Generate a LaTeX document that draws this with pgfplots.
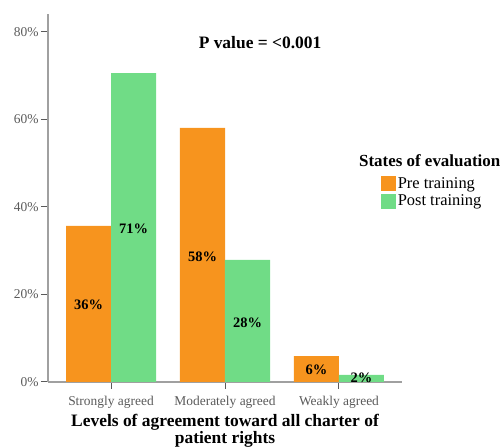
\documentclass[border=0pt]{standalone}
\usepackage{pgfplots}
\pgfplotsset{compat=1.18}
\usepackage{fontspec}
\setmainfont{Liberation Serif}
\definecolor{preC}{RGB}{247,148,30}
\definecolor{postC}{RGB}{112,220,134}
\definecolor{axC}{RGB}{160,160,160}
\definecolor{tickC}{RGB}{90,90,90}
\begin{document}
\begin{tikzpicture}[x=1bp,y=1bp]
\useasboundingbox (0,0) rectangle (504,448);
\begin{axis}[
  at={(48bp,66bp)}, anchor=south west,
  scale only axis, width=354bp, height=368bp,
  xmin=-0.553, xmax=2.553, ymin=0, ymax=84.1,
  axis lines*=left,
  axis line style={axC, line width=1.3pt},
  xtick={0,1,2},
  xticklabels={Strongly agreed,Moderately agreed,Weakly agreed},
  ytick={0,20,40,60,80},
  yticklabel={\pgfmathprintnumber{\tick}\%},
  /pgf/number format/assume math mode=true,
  tick label style={font=\fontsize{13.5}{15}\selectfont, text=tickC},
  yticklabel style={xshift=1bp},
  tick style={tickC, line width=1pt},
  major tick length=7bp,
  tick align=outside,
  xtick style={tickC, line width=1pt},
  xticklabel style={yshift=-4bp},
  xlabel={Levels of agreement toward all charter of\\patient rights},
  xlabel style={font=\fontsize{17.5}{15.5}\selectfont\bfseries, align=center, yshift=1bp},
  legend style={at={(rel axis cs:0.941,0.56)}, anchor=north west, draw=none, fill=none,
     inner sep=0pt, row sep=2bp, font=\fontsize{16.5}{17}\selectfont, cells={anchor=west},
     nodes={inner sep=1.5bp}},
  legend image code/.code={\path[#1, draw=none] (0bp,-7.5bp) rectangle (15bp,7.5bp);},
  clip=false,
]
\addplot[ybar, bar width=0.395, bar shift=0pt, fill=preC, draw=none]
  coordinates {(-0.1974,35.7) (0.8026,58.1) (1.8026,5.9)};
\addlegendentry{Pre training}
\addplot[ybar, bar width=0.395, bar shift=0pt, fill=postC, draw=none]
  coordinates {(0.1974,70.6) (1.1974,27.9) (2.1974,1.6)};
\addlegendentry{Post training}
\addplot[only marks, mark=none, forget plot, nodes near coords, point meta=explicit symbolic,
  nodes near coords align=center,
  every node near coord/.append style={font=\fontsize{14.5}{15}\selectfont\bfseries, text=black, anchor=center}]
  coordinates {(-0.1974,17.6)[36\%] (0.1974,35.0)[71\%] (0.8026,28.6)[58\%]
               (1.1974,13.5)[28\%] (1.8026,2.7)[6\%] (2.1974,0.9)[2\%]};
\node[font=\fontsize{17}{17}\selectfont\bfseries, anchor=west] at (rel axis cs:0.869,0.6005) {States of evaluation};
\node[font=\fontsize{17.5}{17}\selectfont\bfseries] at (rel axis cs:0.599,0.921) {P value = <0.001};
\end{axis}
\end{tikzpicture}
\end{document}
